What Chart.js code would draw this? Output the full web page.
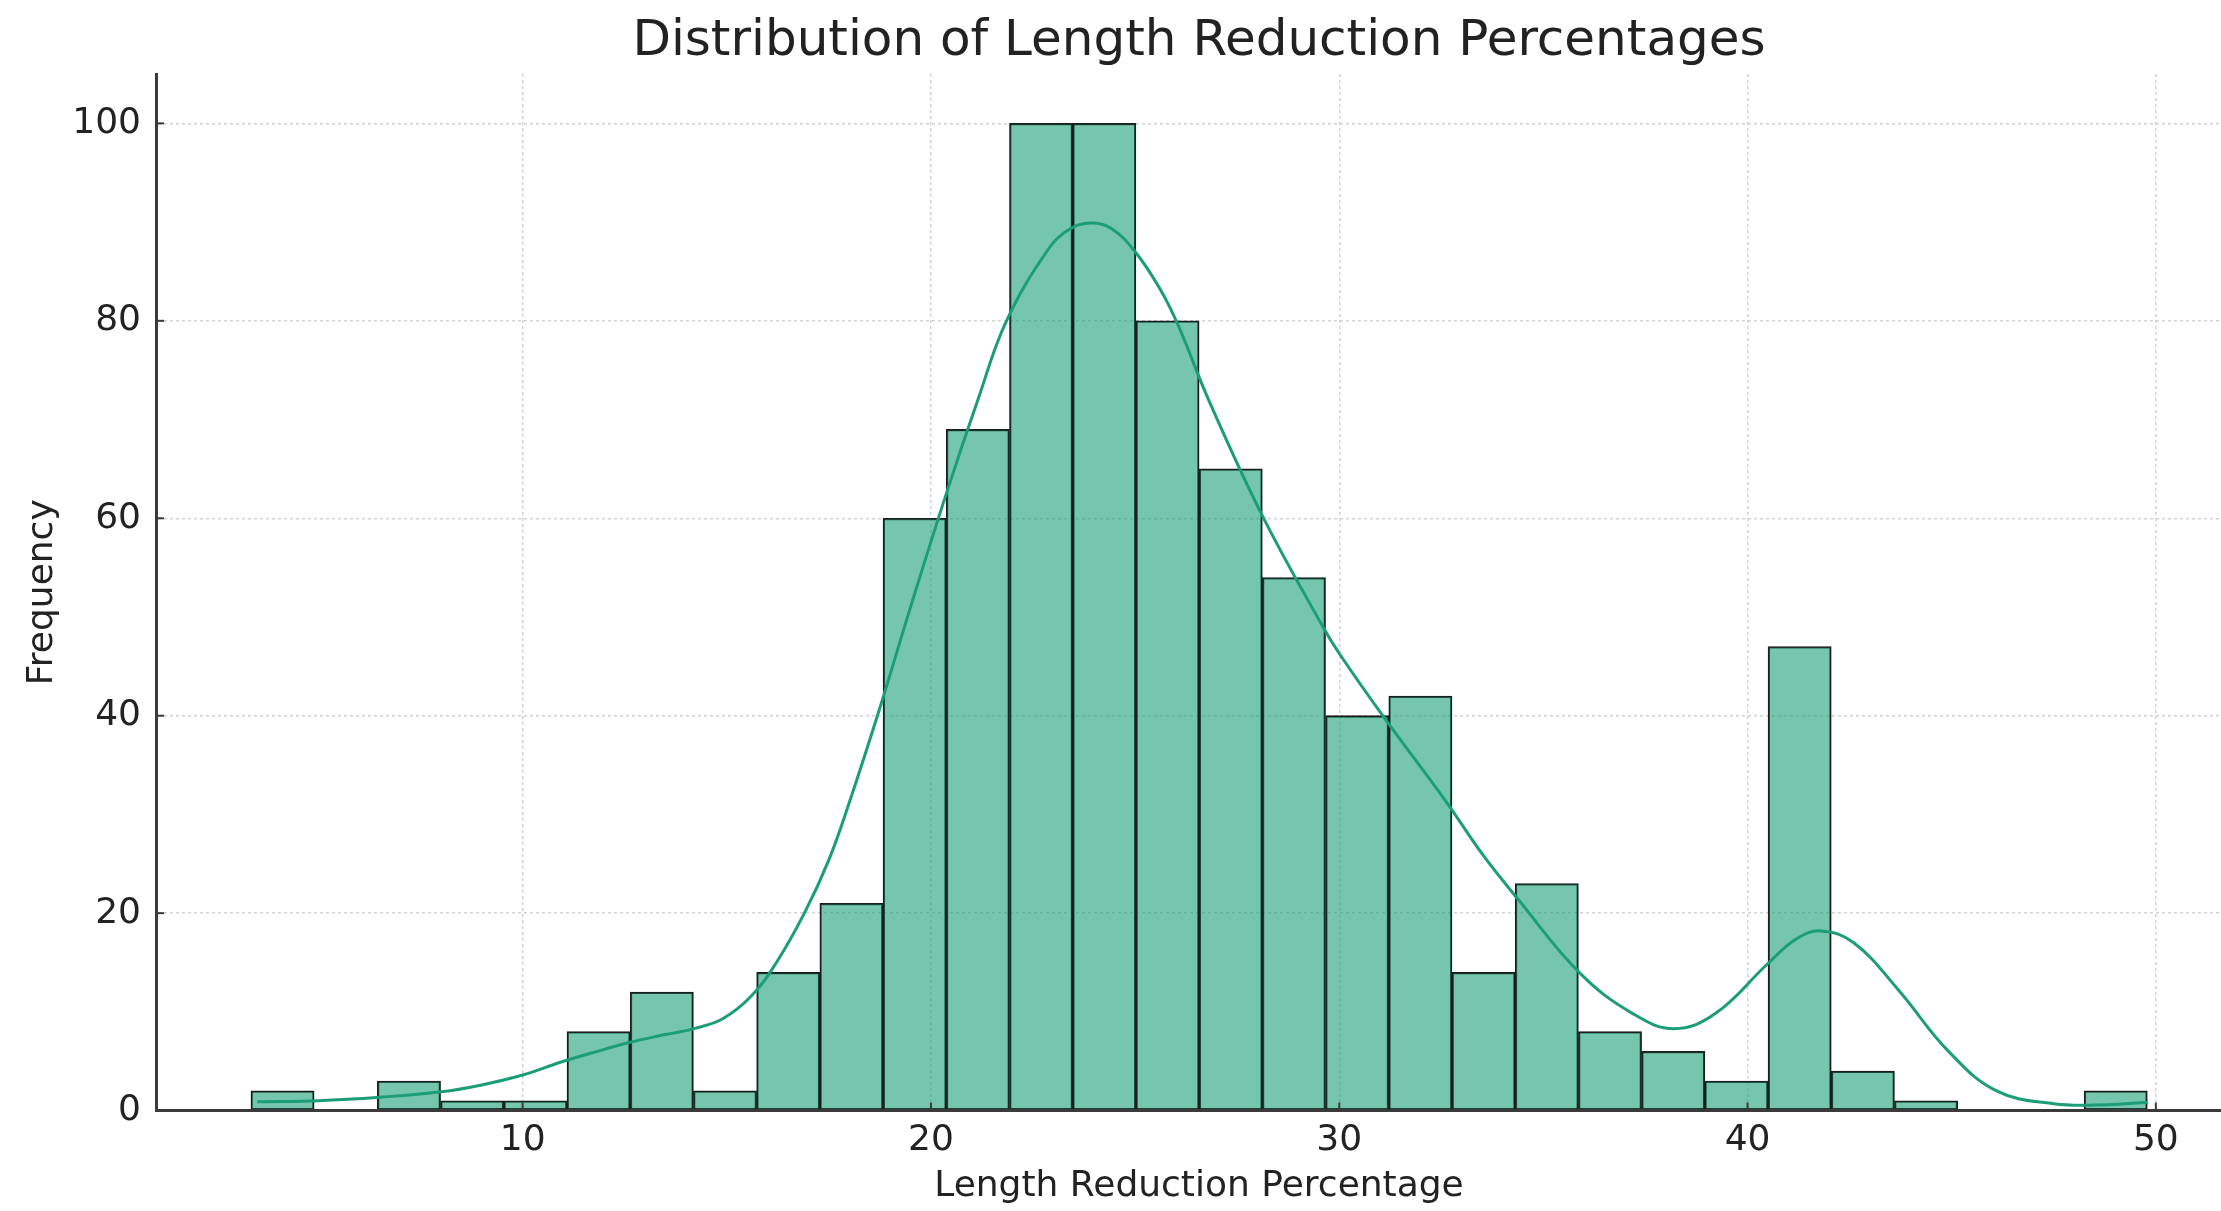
<!DOCTYPE html>
<html>
<head>
<meta charset="utf-8">
<title>Distribution of Length Reduction Percentages</title>
<script src="https://cdn.jsdelivr.net/npm/chart.js@4.4.0/dist/chart.umd.min.js"></script>
<style>
  html, body { margin: 0; padding: 0; background: #ffffff; overflow: hidden; }
  #frame { width: 2221px; height: 1211px; overflow: hidden; }
  #wrap { width: 2396px; height: 1211px; }
  canvas { display: block; }
</style>
</head>
<body>
<div id="frame"><div id="wrap"><canvas id="hist" width="2396" height="1211"></canvas></div></div>
<script>
// Histogram bin edges (30 equal-width bins)
const binEdges = [3.345, 4.893, 6.441, 7.990, 9.538, 11.086, 12.634, 14.182, 15.731, 17.279,
                  18.827, 20.375, 21.923, 23.472, 25.020, 26.568, 28.116, 29.664, 31.213, 32.761,
                  34.309, 35.857, 37.405, 38.954, 40.502, 42.050, 43.598, 45.146, 46.695, 48.243, 49.791];

// Count of records falling in each bin
const binCounts = [2, 0, 3, 1, 1, 8, 12, 2, 14, 21,
                   60, 69, 100, 100, 80, 65, 54, 40, 42, 14,
                   23, 8, 6, 3, 47, 4, 1, 0, 0, 2];

// Kernel density estimate, scaled to counts
const kdeX = [3.5, 5.0, 6.5, 8.0, 9.0, 10.0, 11.0, 12.0, 12.6, 13.5,
              14.2, 14.9, 15.6, 16.2, 16.9, 17.5, 18.0, 18.75, 19.5, 20.4,
              21.15, 21.85, 22.9, 23.4, 23.9, 24.4, 25.0, 25.6, 26.05, 26.8,
              28.1, 29.6, 30.0, 31.1, 32.6, 33.5, 34.4, 35.9, 37.2, 38.2,
              39.2, 40.5, 41.2, 41.8, 42.6, 43.7, 44.9, 46.1, 47.5, 48.8, 49.8];
const kdeY = [0.9, 1.0, 1.35, 1.9, 2.6, 3.6, 5.0, 6.2, 6.9, 7.7,
              8.3, 9.3, 11.6, 14.9, 20.0, 25.4, 31.2, 40.8, 51.0, 62.8,
              72.0, 80.0, 87.4, 89.3, 89.9, 89.4, 87.0, 83.3, 79.6, 72.0,
              60.4, 49.0, 46.3, 39.8, 31.4, 26.0, 21.3, 13.9, 9.8, 8.3,
              9.8, 14.9, 17.4, 18.2, 17.0, 12.2, 6.1, 2.0, 0.7, 0.6, 0.85];

// Axis ticks
const xTickValues = [10, 20, 30, 40, 50];
const yTickValues = [0, 20, 40, 60, 80, 100];

const chartTitle = 'Distribution of Length Reduction Percentages';

const barPoints = binCounts.map((c, i) => ({ x: (binEdges[i] + binEdges[i + 1]) / 2, y: c }));
const kdePoints = kdeX.map((x, i) => ({ x: x, y: kdeY[i] }));

const FONT = 'DejaVu Sans';
const TEXT = '#222222';

// Short inward tick marks on the left and bottom spines
const innerTicks = {
  id: 'innerTicks',
  afterDatasetsDraw(chart) {
    const { ctx, chartArea: a, scales: { x, y } } = chart;
    ctx.save();
    ctx.strokeStyle = '#3a3a3a';
    ctx.lineWidth = 2;
    xTickValues.forEach(v => {
      const px = x.getPixelForValue(v);
      ctx.beginPath(); ctx.moveTo(px, a.bottom); ctx.lineTo(px, a.bottom - 8); ctx.stroke();
    });
    yTickValues.forEach(v => {
      const py = y.getPixelForValue(v);
      ctx.beginPath(); ctx.moveTo(a.left, py); ctx.lineTo(a.left + 8, py); ctx.stroke();
    });
    ctx.restore();
  }
};

// Title centred over the plotting area
const axesTitle = {
  id: 'axesTitle',
  afterDraw(chart) {
    const { ctx, chartArea: a } = chart;
    ctx.save();
    ctx.fillStyle = TEXT;
    ctx.font = '50px "' + FONT + '"';
    ctx.textAlign = 'center';
    ctx.textBaseline = 'alphabetic';
    ctx.fillText(chartTitle, (a.left + a.right) / 2, a.top - 19);
    ctx.restore();
  }
};

new Chart(document.getElementById('hist'), {
  type: 'bar',
  data: {
    datasets: [
      {
        type: 'line',
        data: kdePoints,
        borderColor: '#1b9e77',
        borderWidth: 3,
        pointRadius: 0,
        fill: false,
        tension: 0.4,
        order: 0
      },
      {
        type: 'bar',
        data: barPoints,
        backgroundColor: 'rgba(27,158,119,0.6)',
        borderColor: '#1c1c1c',
        borderWidth: 1.6,
        borderSkipped: false,
        barPercentage: 1,
        categoryPercentage: 1,
        order: 1
      }
    ]
  },
  options: {
    responsive: false,
    animation: false,
    devicePixelRatio: 1,
    layout: { padding: { left: 0, right: 154, top: 74, bottom: 0 } },
    plugins: {
      legend: { display: false },
      tooltip: { enabled: false },
      title: { display: false }
    },
    scales: {
      x: {
        type: 'linear',
        min: 1.02,
        max: 52.11,
        offset: false,
        afterBuildTicks: s => { s.ticks = xTickValues.map(v => ({ value: v })); },
        afterFit: s => { s.height = 100.4; },
        ticks: {
          color: TEXT,
          font: { family: FONT, size: 36 },
          padding: 8,
          maxRotation: 0,
          callback: v => String(v)
        },
        grid: { color: '#d2d2d2', lineWidth: 1.5, drawTicks: false, offset: false },
        border: { display: true, color: '#3a3a3a', width: 3, dash: [3, 3], z: 1 },
        title: {
          display: true,
          text: 'Length Reduction Percentage',
          color: TEXT,
          font: { family: FONT, size: 36 },
          padding: { top: 0, bottom: 3 }
        }
      },
      y: {
        type: 'linear',
        min: 0,
        max: 105,
        afterBuildTicks: s => { s.ticks = yTickValues.map(v => ({ value: v })); },
        afterFit: s => { s.width = 156; },
        ticks: {
          color: TEXT,
          font: { family: FONT, size: 36 },
          padding: 15,
          callback: v => String(v)
        },
        grid: { color: '#d2d2d2', lineWidth: 1.5, drawTicks: false, offset: false },
        border: { display: true, color: '#3a3a3a', width: 3, dash: [3, 3], z: 1 },
        title: {
          display: true,
          text: 'Frequency',
          color: TEXT,
          font: { family: FONT, size: 36 },
          padding: { top: 21, bottom: 0 }
        }
      }
    }
  },
  plugins: [innerTicks, axesTitle]
});
</script>
</body>
</html>
